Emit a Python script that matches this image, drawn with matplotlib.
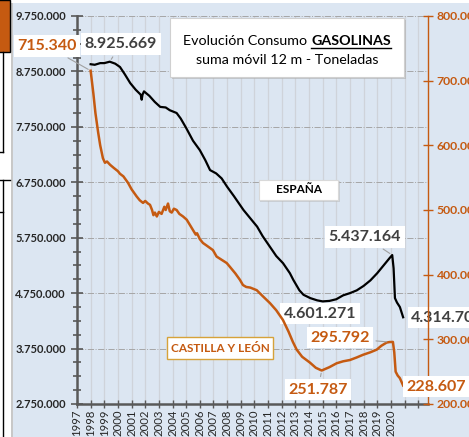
import matplotlib
matplotlib.use("Agg")
from matplotlib import pyplot as plt
from matplotlib.patches import Rectangle
from matplotlib.ticker import FuncFormatter, MultipleLocator, FixedLocator
import numpy as np

plt.rcParams['font.family'] = ['Lato', 'DejaVu Sans']

# consumo España (toneladas, suma movil 12 meses)
esp_x = [1998.0, 1998.3, 1998.7, 1999.0, 1999.4, 1999.8, 2000.15, 2000.5, 2000.9, 2001.3,
         2001.67, 2001.74, 2001.8, 2001.91, 2002.3, 2002.7, 2003.1, 2003.5, 2003.8, 2004.3,
         2004.6, 2005.0, 2005.5, 2006.0, 2006.4, 2006.75, 2007.2, 2007.6, 2008.0, 2008.5,
         2009.2, 2009.8, 2010.2, 2010.6, 2011.1, 2011.6, 2012.1, 2012.6, 2012.85, 2013.3,
         2013.6, 2014.1, 2014.6, 2015.0, 2015.5, 2016.0, 2016.5, 2017.0, 2017.5, 2018.0,
         2018.5, 2019.0, 2019.5, 2019.9, 2020.1, 2020.2, 2020.3, 2020.45, 2020.66, 2020.9]
esp_v = [8.88, 8.87, 8.90, 8.90, 8.925669, 8.89, 8.83, 8.70, 8.54, 8.42,
         8.33, 8.24, 8.33, 8.39, 8.31, 8.20, 8.11, 8.10, 8.05, 8.00,
         7.90, 7.73, 7.50, 7.33, 7.15, 6.97, 6.91, 6.82, 6.67, 6.50,
         6.25, 6.07, 5.95, 5.78, 5.60, 5.42, 5.29, 5.11, 4.99, 4.80,
         4.72, 4.66, 4.62, 4.601271, 4.61, 4.64, 4.71, 4.75, 4.80, 4.88,
         4.98, 5.11, 5.26, 5.38, 5.437164, 5.20, 4.66, 4.58, 4.50, 4.3147]
esp_v = [v * 1e6 for v in esp_v]

# consumo Castilla y León (toneladas)
cyl_x = [1998.0, 1998.2, 1998.35, 1998.55, 1998.7, 1998.9, 1999.05, 1999.2, 1999.42, 1999.7,
         2000.0, 2000.15, 2000.4, 2000.74, 2001.0, 2001.37, 2001.6, 2001.84, 2002.0, 2002.2,
         2002.35, 2002.5, 2002.6, 2002.71, 2002.85, 2003.0, 2003.2, 2003.4, 2003.5, 2003.67,
         2003.8, 2003.94, 2004.1, 2004.3, 2004.5, 2004.77, 2005.04, 2005.3, 2005.5, 2005.7,
         2005.8, 2006.0, 2006.23, 2006.5, 2006.96, 2007.23, 2007.6, 2007.97, 2008.21, 2008.6,
         2008.94, 2009.16, 2009.4, 2009.7, 2010.17, 2010.6, 2011.14, 2011.6, 2012.09, 2012.5,
         2012.82, 2013.1, 2013.5, 2014.07, 2014.5, 2014.93, 2015.5, 2016.03, 2016.5, 2017.0,
         2017.5, 2017.95, 2018.5, 2018.96, 2019.3, 2019.69, 2019.9, 2020.15, 2020.25, 2020.35,
         2020.5, 2020.66, 2020.9]
cyl_v = [715.34, 680, 650, 620, 600, 580, 573, 575, 570, 565,
         560, 556, 552, 542, 532, 521, 515, 511, 514, 510,
         508, 500, 492, 496, 490, 497, 494, 505, 500, 510,
         498, 496, 502, 500, 494, 490, 485, 476, 469, 462,
         464, 455, 449, 445, 438, 428, 423, 418, 412, 402,
         392, 384, 381, 380, 376, 367, 356, 345, 330, 312,
         296, 284, 273, 264, 256, 251.787, 257, 263, 266, 268,
         272, 276, 280, 284, 290, 295, 295.792, 296, 280, 250,
         244, 240, 228.607]
cyl_v = [v * 1e3 for v in cyl_v]

years = list(range(1997, 2023))
year_labels = [str(y) if y <= 2020 else "" for y in years]

bg = "#dce6f2"
orange = "#c55a11"
gray_txt = "#404040"

def fmt(v, pos=None):
    return f"{int(round(v)):,}".replace(",", ".")

fig = plt.figure(figsize=(4.69, 4.37), dpi=100, facecolor=bg)

# trozos de otros graficos a la izquierda
fig.patches.append(Rectangle((0, 0), 11 / 469, 1, transform=fig.transFigure, fc="white", ec="none"))
fig.patches.append(Rectangle((11 / 469, 0), 2 / 469, 1, transform=fig.transFigure, fc="#c8c8c8", ec="none"))
fig.patches.append(Rectangle((0, 1 - 3 / 437), 1, 3 / 437, transform=fig.transFigure, fc="white", ec="none"))
fig.patches.append(Rectangle((-2 / 469, 1 - 52 / 437), 12 / 469, 52 / 437, transform=fig.transFigure,
                             fc=orange, ec="black", lw=1))
fig.lines.append(plt.Line2D([3 / 469, 3 / 469], [1 - 52 / 437, 1 - 152 / 437], transform=fig.transFigure, color="black", lw=1))
fig.lines.append(plt.Line2D([0, 3 / 469], [1 - 152 / 437, 1 - 152 / 437], transform=fig.transFigure, color="black", lw=1))
fig.lines.append(plt.Line2D([0, 10 / 469], [1 - 180 / 437, 1 - 180 / 437], transform=fig.transFigure, color="black", lw=1))
fig.lines.append(plt.Line2D([3 / 469, 3 / 469], [1 - 180 / 437, 0], transform=fig.transFigure, color="black", lw=1))
fig.lines.append(plt.Line2D([0, 3 / 469], [1 - 212 / 437, 1 - 212 / 437], transform=fig.transFigure, color="black", lw=1))

ax = fig.add_axes([77 / 469, 1 - 404 / 437, 350.7 / 469, 388 / 437])
ax.set_facecolor(bg)
ax2 = ax.twinx()

ax.set_xlim(1997, 2022.7)
ax.set_ylim(2.75e6, 9.75e6)
ax2.set_ylim(200e3, 800e3)

ax.xaxis.set_major_locator(FixedLocator(years))
ax.set_xticklabels(year_labels, rotation=90, fontsize=8.2, color="#262626")
ax.yaxis.set_minor_locator(MultipleLocator(0.25e6))
ax.yaxis.set_major_formatter(FuncFormatter(fmt))
ax.set_yticks(np.arange(2.75e6, 9.76e6, 1e6))
ax2.set_yticks(np.arange(200e3, 800.1e3, 100e3))
ax2.yaxis.set_major_formatter(FuncFormatter(fmt))

for lab in ax.get_yticklabels():
    lab.set_fontweight("bold")
    lab.set_fontsize(8)
    lab.set_color("#262626")
for lab in ax2.get_yticklabels():
    lab.set_fontweight("bold")
    lab.set_fontsize(8.8)
    lab.set_color(orange)

ax.tick_params(axis="y", which="major", direction="inout", length=8, width=1.2, color="#595959", pad=4)
ax.tick_params(axis="y", which="minor", direction="inout", length=6, width=1.2, color="#595959")
ax.tick_params(axis="x", direction="inout", length=6, width=1, color="#595959", pad=1)
ax2.tick_params(axis="y", direction="inout", length=7, width=1, color=orange, pad=3)

ax.grid(axis="x", color="#cfd3da", lw=0.9, ls="-")
ax.grid(axis="y", which="major", color="#a6a6a6", lw=0.7, ls="-.")
ax.set_axisbelow(True)

for a in (ax, ax2):
    a.spines["top"].set_visible(False)
ax.spines["left"].set_color("#595959")
ax.spines["left"].set_linewidth(1.8)
ax.spines["bottom"].set_color("#595959")
ax.spines["bottom"].set_linewidth(1.8)
ax.spines["right"].set_visible(False)
ax2.spines["left"].set_visible(False)
ax2.spines["bottom"].set_visible(False)
ax2.spines["right"].set_color(orange)
ax2.spines["right"].set_linewidth(1)

ax.plot(esp_x, esp_v, color="black", lw=1.6, zorder=3)
ax2.plot(cyl_x, cyl_v, color=orange, lw=1.8, zorder=3)

lead = dict(arrowstyle="-", color="#a0a0a0", lw=0.8)
box = dict(fc="white", ec="none", pad=2.5)

ax.annotate(fmt(esp_v[4]), xy=(esp_x[4], esp_v[4]), xytext=(2000.22, 9.245e6),
            ha="center", va="center", fontsize=11.5, fontweight="bold", color=gray_txt,
            bbox=box, arrowprops=lead, annotation_clip=False)
ax.annotate(fmt(esp_v[54]), xy=(esp_x[54], esp_v[54]), xytext=(2018.1, 5.763e6),
            ha="center", va="center", fontsize=11.5, fontweight="bold", color=gray_txt,
            bbox=box, arrowprops=lead, annotation_clip=False)
ax.annotate(fmt(esp_v[43]), xy=(esp_x[43], esp_v[43]), xytext=(2014.8, 4.374e6),
            ha="center", va="center", fontsize=11.5, fontweight="bold", color=gray_txt,
            bbox=box, annotation_clip=False)
ax.annotate(fmt(esp_v[-1]), xy=(esp_x[-1], esp_v[-1]), xytext=(2021.5, 4.302e6),
            ha="left", va="center", fontsize=11.5, fontweight="bold", color=gray_txt,
            bbox=box, annotation_clip=False)

ax2.annotate(fmt(cyl_v[0]), xy=(cyl_x[0], cyl_v[0]), xytext=(1994.8, 753.6e3),
             ha="center", va="center", fontsize=11.5, fontweight="bold", color=orange,
             bbox=box, arrowprops=lead, annotation_clip=False)
ax2.annotate(fmt(cyl_v[76]), xy=(cyl_x[76], cyl_v[76]), xytext=(2016.27, 302.3e3),
             ha="center", va="center", fontsize=11.5, fontweight="bold", color=orange,
             bbox=box, arrowprops=lead, annotation_clip=False)
ax2.annotate(fmt(cyl_v[65]), xy=(cyl_x[65], cyl_v[65]), xytext=(2014.66, 221.9e3),
             ha="center", va="center", fontsize=11.5, fontweight="bold", color=orange,
             bbox=box, arrowprops=lead, annotation_clip=False)
ax2.annotate(fmt(cyl_v[-1]), xy=(cyl_x[-1], cyl_v[-1]), xytext=(2023.3, 226.6e3),
             ha="center", va="center", fontsize=11.5, fontweight="bold", color=orange,
             bbox=box, annotation_clip=False)

# cajas de texto
W, H = 469, 437
def fig_rect(x0, y0, x1, y1, **kw):
    return Rectangle((x0 / W, 1 - y1 / H), (x1 - x0) / W, (y1 - y0) / H, transform=fig.transFigure, **kw)

fig.patches.append(fig_rect(172, 20, 406, 79, fc="#b0b0b0", ec="none", alpha=0.6, zorder=5))
fig.patches.append(fig_rect(170, 18, 404, 77, fc="white", ec="#d0d0d0", lw=0.8, zorder=6))
fig.patches.append(fig_rect(260, 181, 340, 202, fc="#b8b8b8", ec="none", alpha=0.5, zorder=5))
fig.patches.append(fig_rect(259, 180, 338, 200, fc="white", ec="#d9d9d9", lw=0.8, zorder=6))
fig.patches.append(fig_rect(167, 337, 273, 359, fc="white", ec="#d6a23a", lw=1.0, zorder=6))

fig.text(298.5 / W, 1 - 190 / H, "ESPAÑA", ha="center", va="center", fontsize=8.5,
         fontweight="bold", color="black", zorder=7)
fig.text(220 / W, 1 - 348 / H, "CASTILLA Y LEÓN", ha="center", va="center", fontsize=8.5,
         fontweight="bold", color=orange, zorder=7)

t1 = fig.text(0, 1 - 41 / H, "Evolución Consumo ", ha="left", va="center", fontsize=10.3,
              color="black", zorder=7)
t2 = fig.text(0, 1 - 41 / H, "GASOLINAS", ha="left", va="center", fontsize=10.3,
              fontweight="bold", color="black", zorder=7)
fig.text(287 / W, 1 - 60 / H, "suma móvil 12 m - Toneladas", ha="center", va="center",
         fontsize=10.3, color="black", zorder=7)

fig.canvas.draw()
r = fig.canvas.get_renderer()
w1 = t1.get_window_extent(r).width
w2 = t2.get_window_extent(r).width
start = 287 - (w1 + w2) / 2
t1.set_x(start / W)
t2.set_x((start + w1) / W)
bb = t2.get_window_extent(r)
uy = bb.y0 - 1
fig.lines.append(plt.Line2D([(start + w1) / W, (start + w1 + w2) / W], [uy / H, uy / H],
                            transform=fig.transFigure, color="black", lw=1, zorder=7))

fig.savefig("out.png", dpi=100, facecolor=bg)
